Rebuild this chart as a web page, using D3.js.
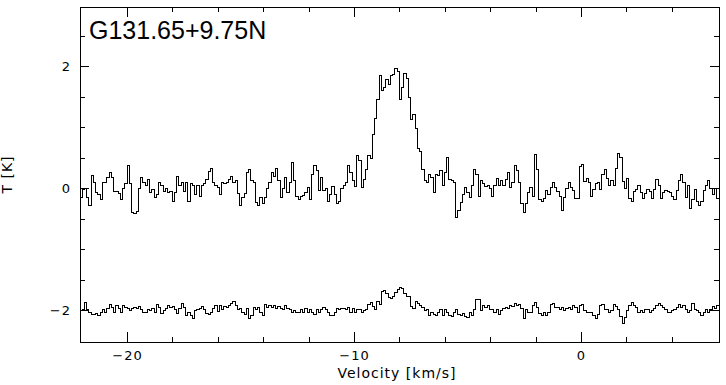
<!DOCTYPE html>
<html>
<head>
<meta charset="utf-8">
<style>
  body { margin: 0; background: #fff; }
  svg { display: block; }
</style>
</head>
<body>
<script src="https://d3js.org/d3.v7.min.js"></script>
<script>
  // spectrum label and channel grid
  const title = "G131.65+9.75N";
  const vStart = -22.07;   // left edge of first channel, km/s
  const dv = 0.0991;       // channel width, km/s

  // upper spectrum (T, K)
  const upperT = [
    -0.15, -0.02, 0.0, -0.15, -0.28, 0.21, 0.09, -0.07, -0.1, -0.18,
    0.09, 0.1, 0.18, 0.25, 0.17, -0.05, -0.06, -0.09, -0.18, 0.0,
    0.07, 0.38, 0.07, -0.40, -0.41, -0.38, 0.0, 0.18, 0.09, 0.04,
    0.14, -0.07, -0.02, -0.15, -0.1, 0.1, 0.04, -0.06, 0.0, -0.07,
    -0.05, -0.21, -0.07, 0.19, 0.04, 0.09, -0.06, 0.09, -0.21, 0.07,
    0.05, -0.1, 0.04, -0.13, 0.04, 0.08, 0.15, 0.27, 0.32, 0.09,
    0.04, 0.01, -0.1, 0.09, 0.07, 0.1, 0.14, 0.19, 0.09, 0.12,
    -0.09, -0.28, -0.15, -0.09, 0.25, 0.3,
    0.12, 0.1, -0.23, -0.28, -0.16, -0.25, -0.16, 0.0, 0.09, 0.26,
    0.19, 0.33, 0.12, -0.15, 0.0, 0.18, -0.07, 0.09, 0.42, 0.12,
    -0.13, -0.18, -0.13, -0.12, -0.07, 0.01, -0.18, 0.23, 0.37, 0.29,
    -0.04, 0.17, -0.04, 0.0, -0.21, -0.1, 0.03, -0.1, -0.25, -0.22,
    0.0, 0.04, 0.09, 0.37, 0.26, 0.12, 0.03, 0.53, 0.45, 0.01,
    0.15, 0.31, 0.53, 0.48,
    0.88, 1.15, 1.46, 1.85, 1.60, 1.65, 1.79, 1.70, 1.84, 1.87,
    1.96, 1.92, 1.45, 1.65, 1.88, 1.80, 1.49, 1.12, 1.21, 0.98,
    0.65, 0.60,
    0.31, 0.12, 0.09, 0.23, 0.18, -0.07, 0.23, 0.21, 0.29, 0.04,
    0.26, 0.50, 0.15, 0.12, 0.09, -0.48, -0.37, -0.23, -0.1, 0.01,
    -0.07, -0.15, 0.04, 0.31, 0.23, -0.13, 0.12, 0.07, 0.03, 0.04,
    0.0, -0.13, 0.05, 0.16, 0.05, 0.12, 0.04, 0.15, 0.25, 0.01,
    0.09, 0.38, 0.29, 0.09, -0.25, -0.40, -0.25, -0.07, 0.01, -0.13,
    0.56, 0.31, -0.18, -0.21, -0.17, -0.04, -0.1, 0.01, 0.09, 0.01,
    -0.06, -0.13, -0.37, -0.15, 0.0, 0.09,
    0.01, -0.04, -0.17, -0.17, 0.36, 0.39, 0.11, 0.16, 0.1, -0.13,
    -0.02, 0.07, 0.09, -0.02, 0.23, 0.30, 0.16, 0.04, 0.12, 0.04,
    0.32, 0.57, 0.50, 0.11, 0.0, 0.16, -0.17, -0.22, -0.06, -0.02,
    0.05, -0.07, -0.17, -0.08, -0.02, -0.05, -0.17, -0.02, 0.14, 0.04,
    -0.17, -0.07, -0.03, -0.06, -0.07, -0.14, -0.19, -0.04, 0.12, 0.23,
    0.09, -0.15, 0.04, -0.33, -0.18, -0.02, -0.21, -0.29, -0.21, -0.04,
    0.04, 0.12, 0.0, -0.1, 0.0, -0.17
  ];

  // lower spectrum (plotted around -2 K)
  const lowerT = [
    -2.01, -1.99, -1.87, -1.98, -2.04, -2.07, -2.07, -2.05, -2.08, -2.04,
    -1.99, -2.03, -1.97, -1.90, -1.96, -2.04, -1.93, -1.97, -2.03, -1.93,
    -1.95, -1.97, -2.01, -1.97, -1.96, -1.97, -1.94, -1.99, -2.04, -2.04, -1.98,
    -2.01, -1.97, -2.04, -1.90, -1.96, -2.05, -2.01, -1.97, -1.93, -1.96,
    -1.94, -1.98, -2.05, -1.97, -1.89, -1.96, -2.08, -2.04, -2.08, -2.14,
    -2.01, -1.98, -1.97, -1.94, -1.99, -2.05, -2.07, -2.03, -1.97, -1.93,
    -2.02, -1.92, -1.98, -1.94, -1.96, -1.92, -1.89, -1.86, -1.92, -1.99, -1.97,
    -2.04, -2.07, -1.97, -2.14, -2.09, -1.96, -1.98, -1.96, -2.04, -2.08,
    -1.90, -1.96, -1.93, -1.96, -1.93, -1.97, -1.94, -1.97, -1.99, -1.93,
    -1.97, -1.99, -2.04, -2.01, -2.04,
    -2.03, -1.99, -2.04, -1.97, -2.04, -1.99, -2.04, -2.07, -1.99, -2.04,
    -1.99, -1.96, -1.99, -2.04, -2.09, -2.09, -2.04, -1.97, -1.98, -1.97,
    -1.97, -1.99, -1.96, -2.03, -1.97, -2.03, -1.98, -1.99, -2.03, -2.01,
    -1.99, -1.90, -1.87, -1.94, -1.98, -1.86, -1.90, -1.70, -1.67, -1.72,
    -1.79, -1.81, -1.77, -1.71, -1.66, -1.63, -1.65, -1.72, -1.78, -1.78,
    -1.94, -1.97, -1.85, -1.89, -1.93, -1.96, -2.01, -1.99, -2.08, -2.04,
    -2.07, -2.08, -2.03, -1.98, -2.09, -1.99, -2.03, -2.08, -2.10, -2.04,
    -1.99, -2.07, -2.09, -2.05, -2.10, -2.12, -2.04, -2.08, -1.98, -1.82,
    -1.83, -2.01, -1.93, -1.96, -1.93, -1.99, -1.98, -2.03, -1.99, -2.07,
    -2.01, -1.97, -1.96, -1.97, -1.92, -1.94, -1.89, -1.93, -1.90,
    -1.97, -2.14, -1.98, -2.03, -2.04, -1.92, -1.87, -1.96, -2.05, -2.09,
    -2.03, -2.08, -2.04, -1.90, -1.89, -1.96, -1.96, -1.98, -1.96, -2.01,
    -1.97, -1.96, -1.99, -1.92, -1.96, -2.04, -1.93, -1.90, -2.01, -2.04,
    -2.03, -2.04, -2.09, -2.14, -2.07, -1.93, -1.90, -1.99, -1.98, -2.04, -2.00,
    -1.90, -1.94, -1.98, -2.10, -2.21, -2.12, -2.01, -1.92, -1.87, -1.93,
    -1.96, -2.03, -2.01, -2.04, -1.99, -1.98, -2.03, -2.01, -1.97, -1.93,
    -1.89, -1.92, -1.96, -1.99, -2.04, -2.03, -2.01, -1.99, -1.96, -1.90,
    -1.95, -1.93, -1.99, -2.04, -2.01, -1.89, -1.98, -2.01, -2.04, -2.08, -2.04,
    -1.99, -2.03, -1.98, -1.94, -1.97, -1.93
  ];

  // axis ticks
  const xMajor = [-20, -10, 0];
  const xMinor = [-18, -16, -14, -12, -8, -6, -4, -2, 2, 4];
  const yMajor = [-2, 0, 2];
  const yMinor = [-1.5, -1, -0.5, 0.5, 1, 1.5, 2.5];

  const W = 726, H = 385;
  const pLeft = 80, pRight = 719, pTop = 7, pBottom = 342;

  const x = d3.scaleLinear().domain([-22.07, 6.08]).range([pLeft, pRight]);
  const y = d3.scaleLinear().domain([-2.52, 2.97]).range([pBottom, pTop]);

  const svg = d3.select("body").append("svg")
    .attr("width", W)
    .attr("height", H)
    .style("background-color", "white");

  svg.append("defs").append("clipPath").attr("id", "plot")
    .append("rect")
    .attr("x", pLeft).attr("y", pTop)
    .attr("width", pRight - pLeft).attr("height", pBottom - pTop);

  const fmt = d => d < 0 ? "\u2212" + Math.abs(d) : String(d);
  const labelFont = "'DejaVu Sans', sans-serif";

  function styleAxis(g) {
    g.select(".domain").remove();
    g.selectAll("line").attr("stroke", "#000").attr("shape-rendering", "crispEdges");
    g.selectAll("text")
      .attr("fill", "#000")
      .style("font-family", labelFont)
      .style("font-size", "13px")
      .style("letter-spacing", "1px");
  }

  // bottom (labelled) and top
  svg.append("g").attr("transform", `translate(0,${pBottom})`)
    .call(d3.axisBottom(x).tickValues(xMajor).tickSize(-10).tickPadding(9).tickFormat(fmt))
    .call(styleAxis);
  svg.append("g").attr("transform", `translate(0,${pBottom})`)
    .call(d3.axisBottom(x).tickValues(xMinor).tickSize(-5).tickFormat(""))
    .call(styleAxis);
  svg.append("g").attr("transform", `translate(0,${pTop})`)
    .call(d3.axisTop(x).tickValues(xMajor).tickSize(-10).tickFormat(""))
    .call(styleAxis);
  svg.append("g").attr("transform", `translate(0,${pTop})`)
    .call(d3.axisTop(x).tickValues(xMinor).tickSize(-5).tickFormat(""))
    .call(styleAxis);

  // left (labelled) and right
  svg.append("g").attr("transform", `translate(${pLeft},0)`)
    .call(d3.axisLeft(y).tickValues(yMajor).tickSize(-9).tickPadding(9).tickFormat(fmt))
    .call(styleAxis);
  svg.append("g").attr("transform", `translate(${pLeft},0)`)
    .call(d3.axisLeft(y).tickValues(yMinor).tickSize(-5).tickFormat(""))
    .call(styleAxis);
  svg.append("g").attr("transform", `translate(${pRight},0)`)
    .call(d3.axisRight(y).tickValues(yMajor).tickSize(-9).tickFormat(""))
    .call(styleAxis);
  svg.append("g").attr("transform", `translate(${pRight},0)`)
    .call(d3.axisRight(y).tickValues(yMinor).tickSize(-5).tickFormat(""))
    .call(styleAxis);

  // frame
  svg.append("rect")
    .attr("x", pLeft).attr("y", pTop)
    .attr("width", pRight - pLeft).attr("height", pBottom - pTop)
    .attr("fill", "none").attr("stroke", "#000")
    .attr("shape-rendering", "crispEdges");

  // histogram-style spectra
  function steps(vals) {
    let pts = vals.map((t, i) => [vStart + i * dv, t]);
    pts.push([vStart + vals.length * dv, vals[vals.length - 1]]);
    return pts;
  }

  const line = d3.line()
    .x(d => x(d[0]))
    .y(d => y(d[1]))
    .curve(d3.curveStepAfter);

  [upperT, lowerT].forEach(s => {
    svg.append("path")
      .datum(steps(s))
      .attr("clip-path", "url(#plot)")
      .attr("d", line)
      .attr("fill", "none")
      .attr("stroke", "#000")
      .attr("stroke-width", 1)
      .attr("shape-rendering", "crispEdges");
  });

  // labels
  svg.append("text")
    .attr("x", 89).attr("y", 39)
    .style("font-family", "'Liberation Sans', Arial, sans-serif")
    .style("font-size", "25px")
    .text(title);

  svg.append("text")
    .attr("x", 397).attr("y", 378)
    .attr("text-anchor", "middle")
    .style("font-family", labelFont)
    .style("font-size", "14px")
    .style("letter-spacing", "1px")
    .text("Velocity [km/s]");

  svg.append("text")
    .attr("transform", `translate(12,${(pTop + pBottom) / 2}) rotate(-90)`)
    .attr("text-anchor", "middle")
    .style("font-family", labelFont)
    .style("font-size", "14px")
    .style("letter-spacing", "1px")
    .text("T [K]");
</script>
</body>
</html>
